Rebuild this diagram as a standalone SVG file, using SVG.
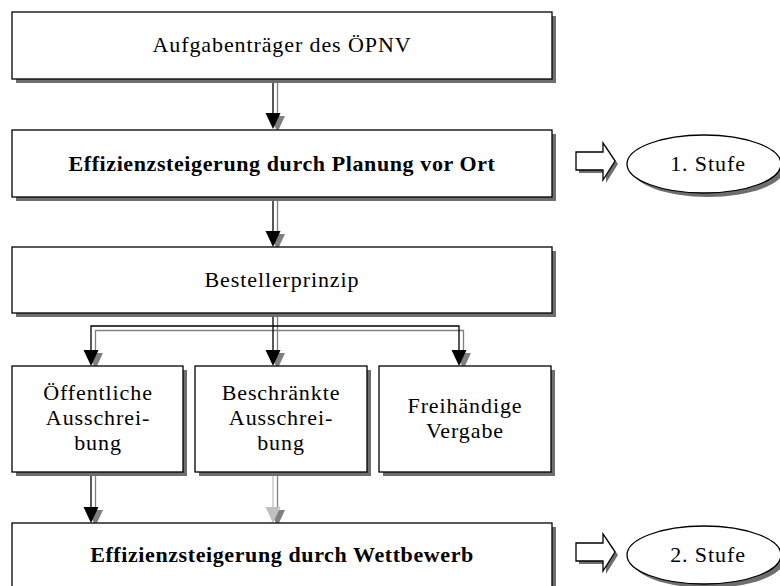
<svg xmlns="http://www.w3.org/2000/svg" width="780" height="586" viewBox="0 0 780 586">
<style>
.box{fill:#fff;stroke:#000;stroke-width:1.3}
.sh{fill:#6e6e6e}
.t{font-family:"Liberation Serif","Times New Roman",serif;font-size:22px;letter-spacing:0.9px;fill:#000;text-anchor:middle}
.b{font-weight:bold;letter-spacing:0.6px}
.ln{stroke:#000;stroke-width:1.3;fill:none}
.lns{stroke:#808080;stroke-width:1.3;fill:none}
.hd{fill:#000}
.hds{fill:#808080}
.lg{stroke:#c0c0c0;stroke-width:1.3;fill:none}
.hdl{fill:#c0c0c0}
</style>
<rect width="780" height="586" fill="#fff"/>
<g id="connectors">
  <!-- A: ÖPNV -> Planung -->
  <line class="lns" x1="277.5" y1="83" x2="277.5" y2="118"/>
  <polygon class="hds" points="269.5,116 285,116 277.5,132"/>
  <line class="ln" x1="273" y1="79" x2="273" y2="114"/>
  <polygon class="hd" points="265.5,113 280.5,113 273,129"/>
  <!-- B: Planung -> Bestellerprinzip -->
  <line class="lns" x1="277.5" y1="201" x2="277.5" y2="235"/>
  <polygon class="hds" points="269.5,234 285,234 277.5,250"/>
  <line class="ln" x1="273" y1="197" x2="273" y2="232"/>
  <polygon class="hd" points="265.5,231 280.5,231 273,247"/>
  <!-- branch shadows -->
  <polyline class="lns" points="95.5,354 95.5,330.5 463.5,330.5 463.5,354"/>
  <line class="lns" x1="277.5" y1="317" x2="277.5" y2="354"/>
  <polygon class="hds" points="87.5,353 103,353 95.5,369"/>
  <polygon class="hds" points="269.5,353 285,353 277.5,369"/>
  <polygon class="hds" points="455.5,353 471,353 463.5,369"/>
  <!-- branch lines -->
  <polyline class="ln" points="91,350 91,326 459,326 459,350"/>
  <line class="ln" x1="273" y1="313" x2="273" y2="350"/>
  <polygon class="hd" points="83.5,350 98.5,350 91,366"/>
  <polygon class="hd" points="265.5,350 280.5,350 273,366"/>
  <polygon class="hd" points="451.5,350 466.5,350 459,366"/>
  <!-- Öffentliche -> Wettbewerb -->
  <line class="lns" x1="95.5" y1="476" x2="95.5" y2="510"/>
  <polygon class="hds" points="87.5,510 103,510 95.5,526"/>
  <line class="ln" x1="91" y1="472" x2="91" y2="508"/>
  <polygon class="hd" points="83.5,507 98.5,507 91,523"/>
  <!-- Beschränkte -> Wettbewerb (light) -->
  <line class="lns" x1="277.5" y1="476" x2="277.5" y2="510"/>
  <polygon class="hds" points="269.5,510 285,510 277.5,526"/>
  <line class="lg" x1="273" y1="472" x2="273" y2="508"/>
  <polygon class="hdl" points="265.5,507 280.5,507 273,523"/>
</g>
<g id="n-oepnv">
  <rect class="sh" x="16" y="16" width="540" height="67"/>
  <rect class="box" x="12" y="12" width="540" height="67"/>
  <text class="t" x="282" y="52">Aufgabenträger des ÖPNV</text>
</g>
<g id="n-planung">
  <rect class="sh" x="16" y="134" width="540" height="67"/>
  <rect class="box" x="12" y="130" width="540" height="67"/>
  <text class="t b" x="282" y="170.5">Effizienzsteigerung durch Planung vor Ort</text>
</g>
<g id="n-besteller">
  <rect class="sh" x="16" y="251" width="540" height="66"/>
  <rect class="box" x="12" y="247" width="540" height="66"/>
  <text class="t" x="282" y="287" letter-spacing="0.4">Bestellerprinzip</text>
</g>
<g id="n-oeffentlich">
  <rect class="sh" x="16" y="370" width="171" height="106"/>
  <rect class="box" x="12" y="366" width="171" height="106"/>
  <text class="t" x="98" y="400">Öffentliche</text>
  <text class="t" x="98" y="425">Ausschrei-</text>
  <text class="t" x="98" y="450">bung</text>
</g>
<g id="n-beschraenkt">
  <rect class="sh" x="199" y="370" width="172" height="106"/>
  <rect class="box" x="195" y="366" width="172" height="106"/>
  <text class="t" x="281" y="400">Beschränkte</text>
  <text class="t" x="281" y="425">Ausschrei-</text>
  <text class="t" x="281" y="450">bung</text>
</g>
<g id="n-freihaendig">
  <rect class="sh" x="383" y="370" width="172" height="106"/>
  <rect class="box" x="379" y="366" width="172" height="106"/>
  <text class="t" x="465" y="413">Freihändige</text>
  <text class="t" x="465" y="438">Vergabe</text>
</g>
<g id="n-wettbewerb">
  <rect class="sh" x="16" y="527" width="540" height="70"/>
  <rect class="box" x="12" y="523" width="540" height="70"/>
  <text class="t b" x="282" y="562">Effizienzsteigerung durch Wettbewerb</text>
</g>
<g id="n-arrow1">
  <polygon class="sh" fill="#808080" points="579,155 606,155 606,146 618,164 606,183 606,173 579,173"/>
  <polygon fill="#fff" stroke="#000" stroke-width="1.3" points="576,152 603,152 603,143 615,161 603,180 603,170 576,170"/>
</g>
<g id="n-stufe1">
  <ellipse class="sh" cx="708" cy="168" rx="77" ry="29"/>
  <ellipse fill="#fff" stroke="#000" stroke-width="1.3" cx="704" cy="164" rx="77" ry="29"/>
  <text class="t" x="708" y="171" letter-spacing="0.4">1. Stufe</text>
</g>
<g id="n-arrow2">
  <polygon class="sh" fill="#808080" points="579,546 606,546 606,537 618,555 606,574 606,564 579,564"/>
  <polygon fill="#fff" stroke="#000" stroke-width="1.3" points="576,543 603,543 603,534 615,552 603,571 603,561 576,561"/>
</g>
<g id="n-stufe2">
  <ellipse class="sh" cx="708" cy="559" rx="77" ry="29"/>
  <ellipse fill="#fff" stroke="#000" stroke-width="1.3" cx="704" cy="555" rx="77" ry="29"/>
  <text class="t" x="708" y="562" letter-spacing="0.4">2. Stufe</text>
</g>
</svg>
